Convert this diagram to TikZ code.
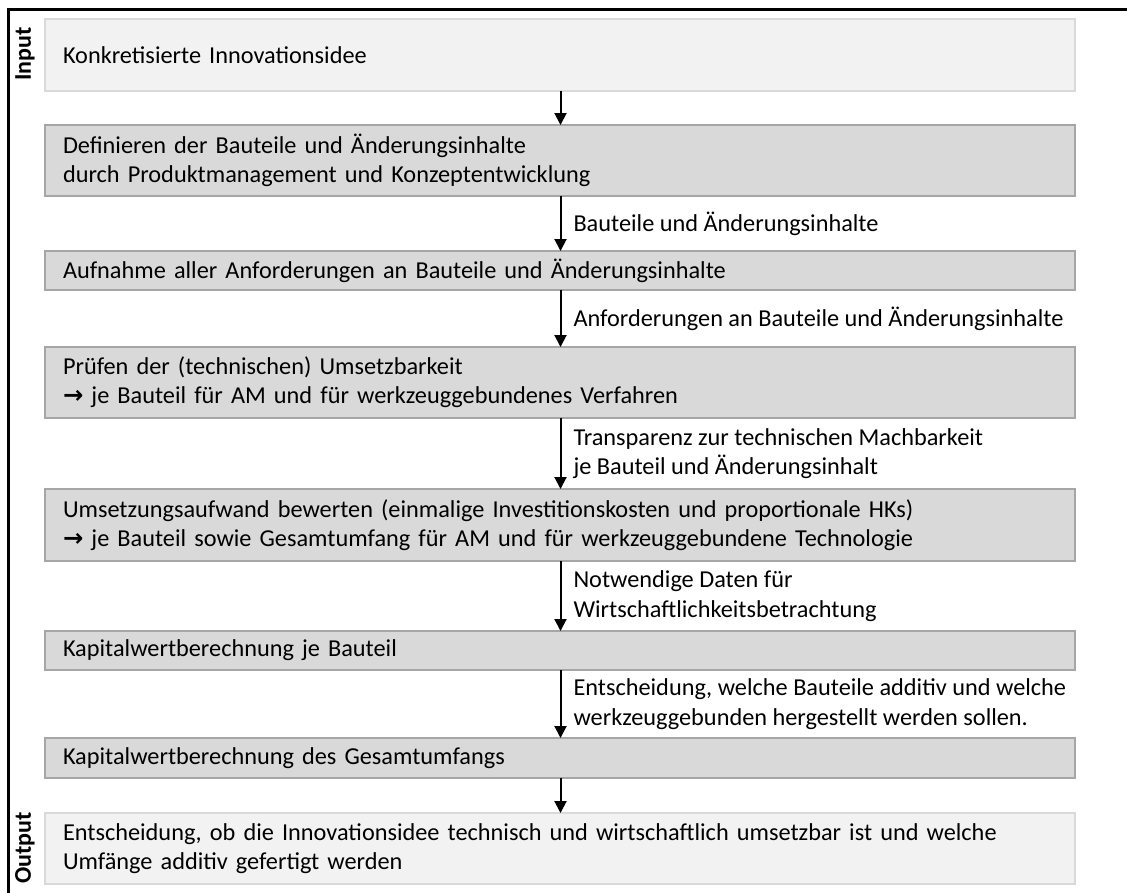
\documentclass[tikz,border=0pt]{standalone}
\usepackage{fontspec}
\setmainfont{Carlito}
\newfontfamily\symfont{DejaVu Sans}
\usetikzlibrary{arrows.meta}

\definecolor{lightfill}{HTML}{F2F2F2}
\definecolor{lightline}{HTML}{D9D9D9}
\definecolor{darkfill}{HTML}{D9D9D9}
\definecolor{darkline}{HTML}{A6A6A6}

\newcommand{\pointer}{{\symfont\bfseries\char"2192}}

\tikzset{
  txt/.style={font=\fontsize{24.3}{29.3}\selectfont},
  box/.style={txt, draw, anchor=north west, minimum width=1030pt,
    text width=994pt, inner xsep=18pt, inner ysep=0pt, outer sep=0pt,
    align=left},
  io/.style={box, fill=lightfill, draw=lightline, line width=2pt},
  proc/.style={box, fill=darkfill, draw=darkline, line width=1.5pt},
  flow/.style={-{Triangle[length=12pt,width=12pt]}, line width=2pt},
  lab/.style={txt, right=12pt, inner sep=0pt, align=left},
  side/.style={rotate=90, font=\bfseries\fontsize{24}{29}\selectfont,
    inner sep=0pt},
}

\begin{document}
\begin{tikzpicture}[x=1pt, y=-1pt]
\useasboundingbox (0,0) rectangle (1127,892);

% frame around the process
\draw[line width=3pt] (8.5,900) -- (8.5,9.5) -- (1135,9.5);

% process steps
\node[io, minimum height=72pt] (b1) at (45,19) {Konkretisierte Innovationsidee};
\node[proc, minimum height=71pt] (b2) at (45,125)
  {Definieren der Bauteile und Änderungsinhalte\\durch Produktmanagement und Konzeptentwicklung};
\node[proc, minimum height=39pt] (b3) at (45,251)
  {Aufnahme aller Anforderungen an Bauteile und Änderungsinhalte};
\node[proc, minimum height=71pt] (b4) at (45,347)
  {Prüfen der (technischen) Umsetzbarkeit\\\pointer{} je Bauteil für AM und für werkzeuggebundenes Verfahren};
\node[proc, minimum height=72pt] (b5) at (45,489)
  {Umsetzungsaufwand bewerten (einmalige Investitionskosten und proportionale HKs)\\\pointer{} je Bauteil sowie Gesamtumfang für AM und für werkzeuggebundene Technologie};
\node[proc, minimum height=39pt] (b6) at (45,631)
  {Kapitalwertberechnung je Bauteil};
\node[proc, minimum height=40pt] (b7) at (45,738)
  {Kapitalwertberechnung des Gesamtumfangs};
\node[io, minimum height=71pt] (b8) at (45,813)
  {Entscheidung, ob die Innovationsidee technisch und wirtschaftlich umsetzbar ist und welche\\Umfänge additiv gefertigt werden};

% side labels
\node[side] (in) at (25,54) {Input};
\node[side] (out) at (25,848) {Output};

% connectors
\coordinate (ax) at (560.5,0);
\draw[flow] (b1.south -| ax) -- (b2.north -| ax);
\draw[flow] (b2.south -| ax) -- (b3.north -| ax)
  node[midway, lab] (l1) {Bauteile und Änderungsinhalte};
\draw[flow] (b3.south -| ax) -- (b4.north -| ax)
  node[midway, lab] (l2) {Anforderungen an Bauteile und Änderungsinhalte};
\draw[flow] (b4.south -| ax) -- (b5.north -| ax)
  node[midway, lab] (l3) {Transparenz zur technischen Machbarkeit\\je Bauteil und Änderungsinhalt};
\draw[flow] (b5.south -| ax) -- (b6.north -| ax)
  node[midway, lab] (l4) {Notwendige Daten für\\Wirtschaftlichkeitsbetrachtung};
\draw[flow] (b6.south -| ax) -- (b7.north -| ax)
  node[midway, lab] (l5) {Entscheidung, welche Bauteile additiv und welche\\werkzeuggebunden hergestellt werden sollen.};
\draw[flow] (b7.south -| ax) -- (b8.north -| ax);
\end{tikzpicture}
\end{document}
